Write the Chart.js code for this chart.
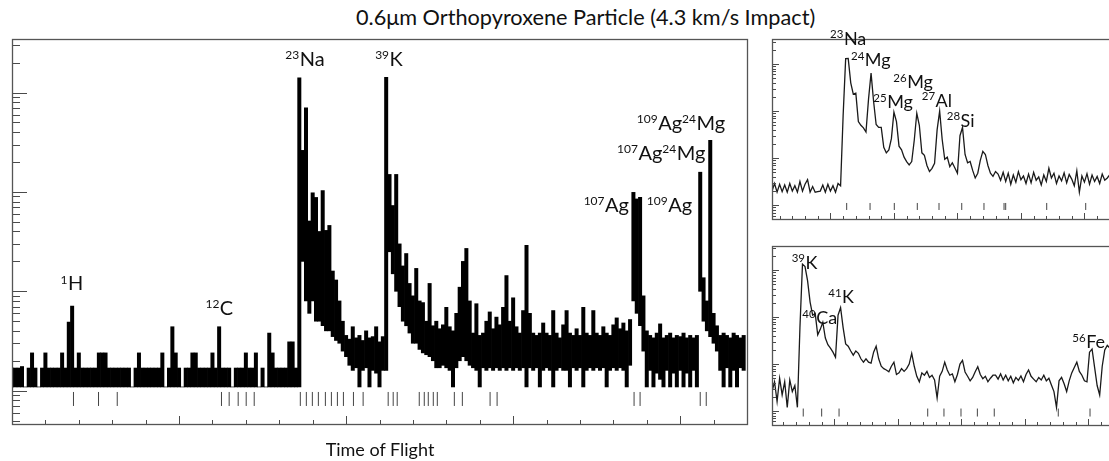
<!DOCTYPE html>
<html lang="en">
  <head>
    <meta charset="UTF-8" />
    <title>Orthopyroxene impact spectrum</title>
    <script src="https://cdn.jsdelivr.net/npm/chart.js@4.4.1/dist/chart.umd.min.js"></script>
    <style>
      body {
        margin: 0;
        width: 1109px;
        height: 461px;
        overflow: hidden;
        background: #fff;
        font-family: "Lato", sans-serif;
        position: relative;
      }
      .panel {
        position: absolute;
      }
      #title {
        position: absolute;
        left: 356px;
        top: 7px;
        font-size: 21.7px;
        line-height: 21px;
        white-space: nowrap;
        color: #111;
      }
      #xlabel {
        position: absolute;
        left: 320px;
        width: 120px;
        top: 440px;
        font-size: 18px;
        line-height: 18px;
        text-align: center;
        color: #111;
      }
    </style>
  </head>
  <body>
    <div id="title">0.6μm Orthopyroxene Particle (4.3 km/s Impact)</div>
    <div class="panel" style="left:0;top:0"><canvas id="tofMain" width="760" height="440"></canvas></div>
    <div class="panel" style="left:760px;top:0"><canvas id="tofNa" width="360" height="230"></canvas></div>
    <div class="panel" style="left:760px;top:230px"><canvas id="tofK" width="360" height="210"></canvas></div>
    <div id="xlabel">Time of Flight</div>

    <script>
    // full spectrum, binned at 0.1 time units: lowest and highest count in each bin
    const binWidth = 0.1;
    const mainLo = [
      1.09,1.09,1.09,1.09,1.09,1.09,1.09,1.09,1.09,1.09,
      1.09,1.09,1.09,1.09,1.09,1.09,1.09,1.09,1.09,1.09,
      1.09,1.09,1.09,1.09,1.09,1.09,1.09,1.09,1.09,1.09,
      1.09,1.09,1.09,1.09,1.09,1.09,1.09,1.09,1.09,1.09,
      1.09,1.09,1.09,1.09,1.09,1.09,1.09,1.09,1.09,1.09,
      1.09,1.09,1.09,1.09,1.09,1.09,1.09,1.09,1.09,1.09,
      1.09,1.09,1.09,1.09,1.09,1.09,1.09,1.09,1.09,1.09,
      1.09,1.09,1.09,1.09,1.09,1.09,1.09,1.09,1.09,1.09,
      1.09,1.09,1.09,1.09,1.09,1.09,1.09,20,8,6,
      8,5,5,4.5,4,4,3.5,3.2,3,2.5,
      2.2,1.8,1.6,1.7,1.09,1.6,1.7,1.09,1.6,1.5,
      1.09,1.6,1.6,25,15,10,7,5,4.5,3.8,
      3,3,2.6,2.4,2.3,2.2,2.0,1.7,1.7,1.8,
      1.7,1.6,1.09,1.7,2.0,2.2,2.0,1.8,1.7,1.6,
      1.09,1.7,1.6,1.7,1.6,1.7,1.6,1.7,1.6,1.7,
      1.6,1.7,1.6,1.7,1.09,1.7,1.6,1.7,1.09,1.6,
      1.7,1.6,1.09,1.6,1.7,1.6,1.6,1.09,1.7,1.6,
      1.7,1.09,1.6,1.7,1.6,1.7,1.6,1.7,1.09,1.6,
      1.7,1.6,1.7,1.6,1.09,1.8,8,6,4.5,2.5,
      1.09,1.6,1.09,1.5,1.3,1.09,1.6,1.09,1.5,1.09,
      1.6,1.09,1.5,1.09,1.6,1.09,10,5,4,3.5,
      3,2.5,1.6,1.09,1.7,1.09,1.6,1.09,1.7,1.6
    ];
    const mainHi = [
      1.69,1.69,1.69,1.75,1.09,1.69,2.4,1.69,1.09,1.69,
      2.4,1.69,1.69,1.69,1.69,2.4,1.69,4.9,7.1,1.69,
      2.4,1.69,1.69,1.69,1.69,1.69,2.4,2.4,2.4,1.69,
      1.69,1.69,1.69,1.69,1.69,1.69,1.09,1.69,2.4,1.69,
      1.69,1.69,1.69,1.69,1.69,2.4,1.09,1.69,4.4,2.4,
      1.69,1.09,1.69,1.69,2.4,2.4,1.69,1.69,1.69,1.69,
      2.4,1.69,4.4,1.69,1.69,1.69,1.09,1.69,1.69,1.69,
      2.4,1.69,1.69,2.4,1.09,1.69,1.09,3.8,2.4,1.69,
      1.69,1.69,1.69,3.1,3.1,1.69,1410,262,700,51,
      98,88,40,103,41,46,16,13,8,5,
      3.6,3.3,4.4,3.4,3.6,3.2,4.0,3.4,3.5,4.4,
      3.1,3.5,1420,150,73,150,30,18,24,12,
      9,17,8,7.7,5,12,4.5,5,4.2,4.6,
      6.9,4.4,4.0,6,11,20,27,8,3.8,7.5,
      3.6,3.8,5.0,6.2,4.2,5.5,4.6,6.9,14.4,5.0,
      8.6,4.4,3.8,6.4,29,6,3.8,3.6,3.8,4.8,
      3.8,3.6,6.4,3.8,3.4,4.6,6.4,3.8,3.6,4.2,
      3.6,6.9,3.8,3.6,6.4,3.8,3.6,4.4,3.8,3.6,
      4.6,5.4,4.2,4.8,4.0,5.2,99,85,88,9,
      4,3.6,3.4,3.8,4.7,3.4,3.6,3.8,3.4,3.6,
      3.5,3.8,3.4,3.6,3.4,3.6,158,13.7,8,330,
      6,4.5,3.6,3.8,3.6,3.4,3.8,3.6,3.4,3.6
    ];

    // zoomed windows, sampled every 0.02 time units
    const sampleStep = 0.02;
    const naStart = 8.04;
    const naWindow = [
      2.0,2.9,1.9,2.8,1.95,2.7,1.9,2.9,2.0,2.6,
      1.9,3.2,2.0,2.8,3.5,1.9,2.5,1.9,1.95,2.0,
      2.7,1.9,2.8,2.0,2.6,1.9,2.9,2.6,80,1300,
      1320,400,230,240,60,50,44,36,180,640,
      160,52,45,45,17,13,15,26,95,60,
      18,15,10.5,8.5,7.2,8.5,24,90,50,13,
      11.5,7,5.2,6.1,7.8,40,100,25,9.5,10.5,
      6.6,8.0,6.2,4.8,30,45,12,8.0,8.5,5.5,
      3.8,4.8,9,14,12,7,4.8,4.1,5.2,4.6,
      3.4,5.0,3.2,4.8,2.8,4.4,3.1,5.2,3.5,4.2,
      2.9,4.6,3.0,5.0,3.4,4.0,2.7,4.4,3.2,6.1,
      3.8,4.8,2.9,4.2,3.3,4.9,3.0,4.5,3.6,2.6,
      5.4,1.9,4.2,3.1,4.7,2.8,4.4,3.2,4.1,2.9,
      4.6,3.4,3.8,4.5
    ];
    const kStart = 11.01;
    const kWindow = [
      2.6,4.2,1.6,5.0,2.2,4.2,1.2,4.6,2.6,3.5,
      1.2,60,1350,1200,600,210,110,120,42,55,
      78,36,26,22,18,14,110,160,60,27,
      24,19,15.5,19,17,13,11,13,11,10.5,
      18,24,13,9,8,7.5,6.9,9,11,6,
      6.5,8,7,8,10,17,9,5.5,4.2,6.5,
      5.8,7,5.2,5.8,4.6,1.9,5.5,7,11,7.5,
      5.8,6.2,4.2,6,10,12,6.8,5.5,4.4,5.2,
      6.9,8.8,6,4.9,5.5,4.2,5,5.8,5.8,4.8,
      6.2,4.6,5.8,4.4,5.5,4.0,5.2,4.5,5.6,4.2,
      6,7.5,5.5,4.8,4.2,5.2,4.6,5.8,4.4,5,
      3.6,2.6,1.2,4.4,5.2,3.8,2.6,4.4,6.5,8.5,
      11,7,5.8,4.4,4.2,18,21,8.5,3.5,2.2,
      9,20,25,22
    ];

    // expected mass-line positions, drawn as short marks under each trace
    const mainMarks = [1.84, 2.59, 3.15, 6.27, 6.50, 6.77, 7.01, 7.25, 8.63, 8.81, 8.99, 9.17,
      9.38, 9.56, 9.74, 9.92, 10.22, 10.51, 11.26, 11.41, 11.53, 12.19, 12.34, 12.46, 12.61,
      12.73, 13.24, 13.48, 14.31, 14.52, 18.62, 18.80, 20.60, 20.78];
    const naMarks = [8.628, 8.812, 9.003, 9.184, 9.355, 9.534, 9.709, 9.867, 9.880, 10.203, 10.510];
    const kMarks = [11.256, 11.401, 11.538, 12.236, 12.364, 12.498, 12.627, 12.760, 13.264, 13.514];

    // peak labels: [mass number, symbol] pairs, anchored at (time, counts)
    const mainLabels = [
      {x: 1.45, y: 10.2, parts: [['1', 'H']]},
      {x: 5.79, y: 5.8, parts: [['12', 'C']]},
      {x: 8.18, y: 1860, parts: [['23', 'Na']]},
      {x: 10.87, y: 1860, parts: [['39', 'K']]},
      {x: 17.11, y: 63, parts: [['107', 'Ag']]},
      {x: 19.0, y: 63, parts: [['109', 'Ag']]},
      {x: 18.11, y: 210, parts: [['107', 'Ag'], ['24', 'Mg']]},
      {x: 18.70, y: 422, parts: [['109', 'Ag'], ['24', 'Mg']]}
    ];
    const naLabels = [
      {x: 8.497, y: 2575, parts: [['23', 'Na']]},
      {x: 8.662, y: 889, parts: [['24', 'Mg']]},
      {x: 8.838, y: 116, parts: [['25', 'Mg']]},
      {x: 8.995, y: 308, parts: [['26', 'Mg']]},
      {x: 9.219, y: 125, parts: [['27', 'Al']]},
      {x: 9.416, y: 47, parts: [['28', 'Si']]}
    ];
    const kLabels = [
      {x: 11.165, y: 1087, parts: [['39', 'K']]},
      {x: 11.249, y: 70, parts: [['40', 'Ca']]},
      {x: 11.453, y: 196, parts: [['41', 'K']]},
      {x: 13.375, y: 21.6, parts: [['56', 'Fe']]}
    ];

    // frame with inward ticks, log ticks on the left and linear ticks on the bottom
    const frameTicks = {
      id: 'frameTicks',
      afterDraw(chart, args, o) {
        const {ctx, chartArea: a, scales: {x, y}} = chart;
        ctx.save();
        ctx.strokeStyle = '#4a4a4a';
        ctx.lineWidth = 1;
        ctx.beginPath();
        const lo = Math.floor(Math.log10(y.min)), hi = Math.ceil(Math.log10(y.max));
        for (let d = lo; d <= hi; d++) {
          for (let k = 1; k < 10; k++) {
            const v = k * Math.pow(10, d);
            if (v < y.min || v > y.max) continue;
            const py = Math.round(y.getPixelForValue(v)) + 0.5;
            ctx.moveTo(a.left, py);
            ctx.lineTo(a.left + (k === 1 ? o.yMajor : o.yMinor), py);
          }
        }
        const n0 = Math.ceil(x.min / o.xStep - 1e-6);
        for (let n = n0; n * o.xStep <= x.max; n++) {
          const px = Math.round(x.getPixelForValue(n * o.xStep)) + 0.5;
          ctx.moveTo(px, a.bottom);
          ctx.lineTo(px, a.bottom - (n % o.xEvery === 0 ? o.xMajor : o.xMinor));
        }
        ctx.stroke();
        ctx.lineWidth = 1.3;
        ctx.strokeStyle = '#555';
        ctx.strokeRect(Math.round(a.left) + 0.5, Math.round(a.top) + 0.5,
          Math.round(a.width), Math.round(a.height));
        ctx.restore();
      }
    };

    const isotopeLabels = {
      id: 'isotopeLabels',
      afterDraw(chart, args, o) {
        const {ctx, scales: {x, y}} = chart;
        ctx.save();
        ctx.fillStyle = '#111';
        ctx.textBaseline = 'alphabetic';
        o.items.forEach(item => {
          let px = x.getPixelForValue(item.x);
          const py = y.getPixelForValue(item.y);
          item.parts.forEach(([mass, sym]) => {
            ctx.font = o.sup + 'px Lato';
            ctx.fillText(mass, px, py - o.raise);
            px += ctx.measureText(mass).width + 0.5;
            ctx.font = o.size + 'px Lato';
            ctx.fillText(sym, px, py);
            px += ctx.measureText(sym).width;
          });
        });
        ctx.restore();
      }
    };

    function spectrumChart(id, trace, marks, cfg) {
      return new Chart(document.getElementById(id), {
        type: 'line',
        data: {
          datasets: [
            trace,
            {
              type: 'scatter',
              data: marks.map(t => ({x: t, y: cfg.markAt})),
              showLine: false,
              pointStyle: 'line',
              pointRotation: 90,
              pointRadius: cfg.markLen,
              pointBorderColor: '#444',
              pointBorderWidth: 1
            }
          ]
        },
        options: {
          responsive: false,
          animation: false,
          events: [],
          layout: {padding: cfg.padding},
          scales: {
            x: {type: 'linear', display: false, offset: false, min: cfg.xMin, max: cfg.xMax},
            y: {type: 'logarithmic', display: false, min: cfg.yMin, max: cfg.yMax}
          },
          plugins: {
            legend: {display: false},
            tooltip: {enabled: false},
            frameTicks: cfg.ticks,
            isotopeLabels: cfg.labels
          }
        },
        plugins: [frameTicks, isotopeLabels]
      });
    }

    // each bin is a floating bar spanning its low..high counts
    const mainBins = {
      type: 'bar',
      data: mainLo.map((lo, i) => ({x: i * binWidth, y: [lo, mainHi[i]]})),
      backgroundColor: '#000',
      borderWidth: 0,
      barPercentage: 1,
      categoryPercentage: 1,
      clip: 0
    };
    const traceLine = (values, start) => ({
      data: values.map((v, k) => ({x: start + k * sampleStep, y: v})),
      borderColor: '#1a1a1a',
      borderWidth: 1.3,
      pointRadius: 0,
      tension: 0,
      clip: 0
    });

    spectrumChart('tofMain', mainBins, mainMarks, {
      padding: {left: 12, top: 39, right: 13, bottom: 16},
      xMin: 0, xMax: 22, yMin: 0.462, yMax: 3459,
      markAt: 0.825, markLen: 7,
      ticks: {yMajor: 15, yMinor: 8, xStep: 1, xEvery: 5, xMajor: 8, xMinor: 4},
      labels: {items: mainLabels, size: 20, sup: 12, raise: 6.5}
    });
    spectrumChart('tofNa', traceLine(naWindow, naStart), naMarks, {
      padding: {left: 12, top: 39, right: 8, bottom: 11},
      xMin: naStart, xMax: naStart + 2.677, yMin: 0.511, yMax: 3404,
      markAt: 0.943, markLen: 3.5,
      ticks: {yMajor: 7, yMinor: 4, xStep: 0.1, xEvery: 5, xMajor: 6, xMinor: 3},
      labels: {items: naLabels, size: 18, sup: 11.5, raise: 6.5}
    });
    spectrumChart('tofK', traceLine(kWindow, kStart), kMarks, {
      padding: {left: 12, top: 16, right: 8, bottom: 15},
      xMin: kStart, xMax: kStart + 2.677, yMin: 0.504, yMax: 3289,
      markAt: 0.929, markLen: 4,
      ticks: {yMajor: 7, yMinor: 4, xStep: 0.1, xEvery: 5, xMajor: 6, xMinor: 3},
      labels: {items: kLabels, size: 18, sup: 11.5, raise: 6.5}
    });
    </script>
  </body>
</html>
